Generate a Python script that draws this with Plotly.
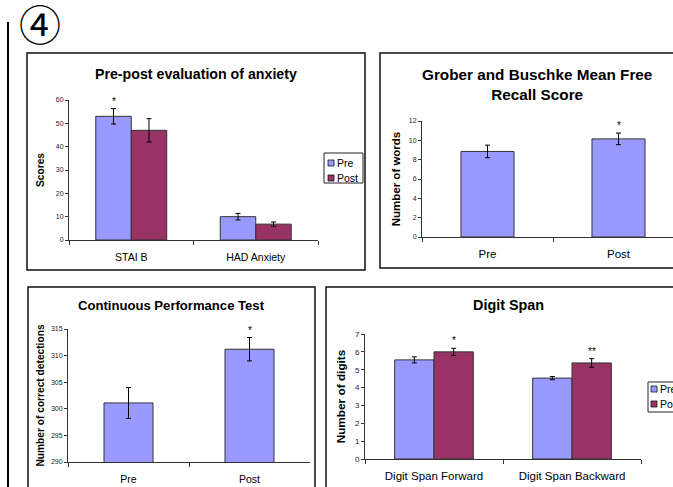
import plotly.graph_objects as go

W, H = 673, 487
FONT = "Liberation Sans, Arial, sans-serif"
PRE_COLOR = "#9999FF"
POST_COLOR = "#993366"
EDGE = "#333333"

# ---- Panel 1: Pre-post evaluation of anxiety ----
anx_categories = ["STAI B", "HAD Anxiety"]
anx_pre = [53.0, 10.0]
anx_pre_err = [3.3, 1.4]
anx_post = [47.0, 6.8]
anx_post_err = [5.0, 0.9]
anx_ticks = [0, 10, 20, 30, 40, 50, 60]

# ---- Panel 2: Grober and Buschke Mean Free Recall Score ----
gb_categories = ["Pre", "Post"]
gb_values = [8.85, 10.15]
gb_err = [0.65, 0.6]
gb_ticks = [0, 2, 4, 6, 8, 10, 12]

# ---- Panel 3: Continuous Performance Test ----
cpt_categories = ["Pre", "Post"]
cpt_values = [301.1, 311.2]
cpt_err = [2.9, 2.2]
cpt_ticks = [290, 295, 300, 305, 310, 315]

# ---- Panel 4: Digit Span ----
ds_categories = ["Digit Span Forward", "Digit Span Backward"]
ds_pre = [5.55, 4.53]
ds_pre_err = [0.17, 0.09]
ds_post = [6.0, 5.38]
ds_post_err = [0.2, 0.24]
ds_ticks = [0, 1, 2, 3, 4, 5, 6, 7]

series_names = ["Pre", "Post"]


def px(x):
    return x / W


def py(y):
    return 1 - y / H


GROUP_W = 0.285   # width of each bar in grouped panels (category units)
SINGLE_W = 0.405  # width of bar in single-series panels

fig = go.Figure()


def err(vals):
    return dict(type="data", array=vals, visible=True, color="black",
                thickness=1, width=2.5)


def bar(x, y, e, color, name, xa, ya, width, offset):
    fig.add_trace(go.Bar(
        x=x, y=y, error_y=err(e), name=name, showlegend=False,
        marker=dict(color=color, line=dict(color=EDGE, width=1)),
        width=width, offset=offset, xaxis=xa, yaxis=ya))


# Panel 1
bar(anx_categories, anx_pre, anx_pre_err, PRE_COLOR, series_names[0], "x", "y", GROUP_W, -GROUP_W)
bar(anx_categories, anx_post, anx_post_err, POST_COLOR, series_names[1], "x", "y", GROUP_W, 0)
# Panel 2
bar(gb_categories, gb_values, gb_err, PRE_COLOR, series_names[0], "x2", "y2", SINGLE_W, -SINGLE_W / 2)
# Panel 3
bar(cpt_categories, cpt_values, cpt_err, PRE_COLOR, series_names[0], "x3", "y3", SINGLE_W, -SINGLE_W / 2)
# Panel 4
bar(ds_categories, ds_pre, ds_pre_err, PRE_COLOR, series_names[0], "x4", "y4", GROUP_W, -GROUP_W)
bar(ds_categories, ds_post, ds_post_err, POST_COLOR, series_names[1], "x4", "y4", GROUP_W, 0)


def xaxis(domain, anchor, rng, size, standoff):
    return dict(domain=domain, anchor=anchor, type="category", range=rng,
                showline=True, linecolor=EDGE, linewidth=1, ticks="outside",
                ticklen=4, tickcolor=EDGE, tickson="boundaries", showgrid=False,
                zeroline=False, ticklabelstandoff=standoff,
                tickfont=dict(size=size, color="black", family=FONT))


def yaxis(domain, anchor, rng, ticks, title, tsize, fsize, standoff):
    return dict(domain=domain, anchor=anchor, range=rng, tickvals=ticks,
                showline=True, linecolor=EDGE, linewidth=1, ticks="outside",
                ticklen=3, tickcolor=EDGE, showgrid=False, zeroline=False,
                automargin=True,
                tickfont=dict(size=tsize, color="#222", family=FONT),
                title=dict(text="<b>" + title + "</b>", standoff=standoff,
                           font=dict(size=fsize, color="black", family=FONT)))


fig.update_layout(
    xaxis=xaxis([px(69), px(318)], "y", [-0.5, 1.5], 10.5, 7),
    yaxis=yaxis([py(240), py(100)], "x", [0, 60], anx_ticks, "Scores", 7, 10.2, 9),
    xaxis2=xaxis([px(422), 1.0], "y2", [-0.5, -0.5 + 2 * (673 - 422) / (684 - 422)], 11.5, 6),
    yaxis2=yaxis([py(237), py(121)], "x2", [0, 12], gb_ticks, "Number of words", 7, 11.5, 5),
    xaxis3=xaxis([px(68), px(310)], "y3", [-0.5, 1.5], 10.5, 7),
    yaxis3=yaxis([py(462), py(329)], "x3", [290, 315], cpt_ticks, "Number of correct detections", 7, 10.2, 4),
    xaxis4=xaxis([px(365), px(641)], "y4", [-0.5, 1.5], 11.5, 6),
    yaxis4=yaxis([py(459), py(334)], "x4", [0, 7], ds_ticks, "Number of digits", 8, 11.8, 6),
)

# Significance stars
stars = [
    ("x", "y", -GROUP_W / 2, anx_pre[0] + anx_pre_err[0], "*"),
    ("x2", "y2", 1, gb_values[1] + gb_err[1], "*"),
    ("x3", "y3", 1, cpt_values[1] + cpt_err[1], "*"),
    ("x4", "y4", GROUP_W / 2, ds_post[0] + ds_post_err[0], "*"),
    ("x4", "y4", 1 + GROUP_W / 2, ds_post[1] + ds_post_err[1], "**"),
]
annotations = []
for xa, ya, xv, yv, t in stars:
    annotations.append(dict(xref=xa, yref=ya, x=xv, y=yv, text=t, showarrow=False,
                            yanchor="bottom", yshift=0,
                            font=dict(size=10, color="black", family=FONT)))

# Panel titles
titles = [
    (196, 74, "Pre-post evaluation of anxiety", 14.2),
    (537, 85, "Grober and Buschke Mean Free<br>Recall Score", 15.3),
    (171, 305, "Continuous Performance Test", 13.1),
    (508, 305, "Digit Span", 14.4),
]
for x, y, t, s in titles:
    annotations.append(dict(xref="paper", yref="paper", x=px(x), y=py(y), text="<b>" + t + "</b>",
                            showarrow=False, xanchor="center", yanchor="middle",
                            font=dict(size=s, color="black", family=FONT)))

# Circled label
annotations.append(dict(xref="paper", yref="paper", x=px(40), y=py(26), text="④",
                        showarrow=False, xanchor="center", yanchor="middle",
                        font=dict(size=42, color="black", family="DejaVu Serif, Noto Sans CJK JP")))

shapes = []
# Left vertical rule
shapes.append(dict(type="line", xref="paper", yref="paper", x0=px(8), x1=px(8), y0=py(22), y1=py(490),
                   line=dict(color="black", width=2)))
# Panel frames
for x0, y0, x1, y1 in [(27, 53, 365, 270), (380, 53, 710, 268), (28, 287, 315, 520), (326, 287, 710, 520)]:
    shapes.append(dict(type="rect", xref="paper", yref="paper", x0=px(x0), x1=px(x1), y0=py(y0), y1=py(y1),
                       line=dict(color="#111", width=1.5), fillcolor="rgba(0,0,0,0)", layer="below"))


# Manual legends (Pre / Post) for panels 1 and 4
def legend(x0, y0, x1, y1, r1, r2, sx, tx):
    shapes.append(dict(type="rect", xref="paper", yref="paper", x0=px(x0), x1=px(x1), y0=py(y0), y1=py(y1),
                       line=dict(color="#222", width=1), fillcolor="white"))
    for ry, col, name in [(r1, PRE_COLOR, series_names[0]), (r2, POST_COLOR, series_names[1])]:
        shapes.append(dict(type="rect", xref="paper", yref="paper", x0=px(sx), x1=px(sx + 6),
                           y0=py(ry - 3), y1=py(ry + 3), line=dict(color="#111", width=0.8), fillcolor=col))
        annotations.append(dict(xref="paper", yref="paper", x=px(tx), y=py(ry), text=name, showarrow=False,
                                xanchor="left", yanchor="middle",
                                font=dict(size=10.5, color="black", family=FONT)))


legend(324, 153, 363, 183, 163, 178, 328, 335)
legend(648, 382, 710, 412, 389, 404, 651, 658)

fig.update_layout(
    width=W, height=H, margin=dict(l=0, r=0, t=0, b=0, autoexpand=False),
    paper_bgcolor="white", plot_bgcolor="white", barmode="overlay",
    showlegend=False, annotations=annotations, shapes=shapes,
    font=dict(family=FONT, color="black"),
)

fig.write_html("out.html", config={"displayModeBar": False},
               post_script="document.body.style.margin='0px';document.body.style.overflow='hidden';")
